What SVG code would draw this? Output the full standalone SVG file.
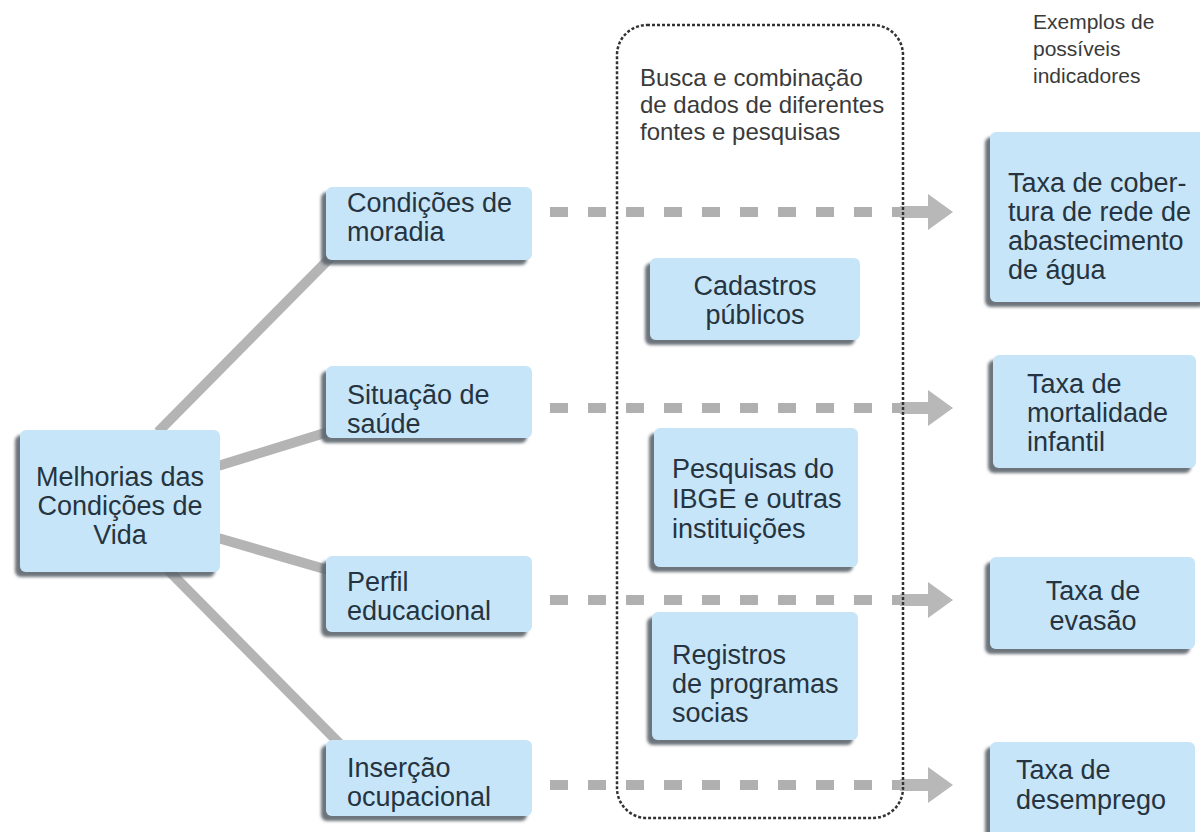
<svg xmlns="http://www.w3.org/2000/svg" width="1200" height="832" viewBox="0 0 1200 832">
<style>
.box{fill:#c7e5f8;filter:url(#sh)}
.t{font-family:"Liberation Sans",Arial,sans-serif;font-size:27px;fill:#253440}
.h{font-family:"Liberation Sans",Arial,sans-serif;font-size:24px;fill:#3a3a3a}
.e{font-family:"Liberation Sans",Arial,sans-serif;font-size:21px;fill:#3a3a3a}
.c{text-anchor:middle}
.ln{stroke:#b4b4b4;stroke-width:10;fill:none}
.dash{stroke:#b0b0b0;stroke-width:10;stroke-dasharray:18 20;fill:none}
.arr{fill:#b8b8b8}
</style>
<defs>
<filter id="sh" x="-10%" y="-10%" width="120%" height="125%">
<feDropShadow dx="-5" dy="5" stdDeviation="1.5" flood-color="#5d656d" flood-opacity="0.9"/>
</filter>
</defs>
<rect width="1200" height="832" fill="#ffffff"/>

<g id="connectors">
<line class="ln" x1="158" y1="432" x2="332" y2="256"/>
<line class="ln" x1="218" y1="466" x2="328" y2="432"/>
<line class="ln" x1="218" y1="538" x2="328" y2="570"/>
<line class="ln" x1="168" y1="570" x2="342" y2="746"/>
<line class="dash" x1="550" y1="212" x2="905" y2="212"/>
<line class="dash" x1="550" y1="408" x2="905" y2="408"/>
<line class="dash" x1="550" y1="600" x2="905" y2="600"/>
<line class="dash" x1="550" y1="785" x2="905" y2="785"/>
<polygon class="arr" points="900,206 928,206 928,194 953,212 928,230 928,218 900,218"/>
<polygon class="arr" points="900,402 928,402 928,390 953,408 928,426 928,414 900,414"/>
<polygon class="arr" points="900,594 928,594 928,582 953,600 928,618 928,606 900,606"/>
<polygon class="arr" points="900,779 928,779 928,767 953,785 928,803 928,791 900,791"/>
</g>

<g id="sources-frame">
<rect x="617" y="25" width="286" height="793" rx="30" ry="30" fill="none" stroke="#333" stroke-width="2.5" stroke-dasharray="3 2"/>
<text class="h"><tspan x="640" y="86">Busca e combinação</tspan><tspan x="640" y="113">de dados de diferentes</tspan><tspan x="640" y="140">fontes e pesquisas</tspan></text>
</g>

<g id="examples-title">
<text class="e"><tspan x="1033" y="29">Exemplos de</tspan><tspan x="1033" y="56">possíveis</tspan><tspan x="1033" y="83">indicadores</tspan></text>
</g>

<g id="main">
<rect class="box" x="20" y="430" width="200" height="142" rx="6"/>
<text class="t c"><tspan x="120" y="486">Melhorias das</tspan><tspan x="120" y="515">Condições de</tspan><tspan x="120" y="544">Vida</tspan></text>
</g>

<g id="moradia">
<rect class="box" x="326" y="187" width="206" height="73" rx="6"/>
<text class="t"><tspan x="347" y="212">Condições de</tspan><tspan x="347" y="241">moradia</tspan></text>
</g>
<g id="saude">
<rect class="box" x="326" y="366" width="206" height="72" rx="6"/>
<text class="t"><tspan x="347" y="404">Situação de</tspan><tspan x="347" y="433">saúde</tspan></text>
</g>
<g id="educacional">
<rect class="box" x="326" y="556" width="206" height="76" rx="6"/>
<text class="t"><tspan x="347" y="591">Perfil</tspan><tspan x="347" y="620">educacional</tspan></text>
</g>
<g id="ocupacional">
<rect class="box" x="326" y="740" width="206" height="76" rx="6"/>
<text class="t"><tspan x="347" y="777">Inserção</tspan><tspan x="347" y="806">ocupacional</tspan></text>
</g>

<g id="cadastros">
<rect class="box" x="650" y="258" width="210" height="82" rx="6"/>
<text class="t c"><tspan x="755" y="295">Cadastros</tspan><tspan x="755" y="324">públicos</tspan></text>
</g>
<g id="pesquisas">
<rect class="box" x="654" y="428" width="204" height="139" rx="6"/>
<text class="t"><tspan x="672" y="478">Pesquisas do</tspan><tspan x="672" y="508">IBGE e outras</tspan><tspan x="672" y="538">instituições</tspan></text>
</g>
<g id="registros">
<rect class="box" x="652" y="612" width="206" height="128" rx="6"/>
<text class="t"><tspan x="672" y="664">Registros</tspan><tspan x="672" y="693">de programas</tspan><tspan x="672" y="722">socias</tspan></text>
</g>

<g id="cobertura">
<rect class="box" x="990" y="132" width="220" height="170" rx="6"/>
<text class="t"><tspan x="1008" y="192">Taxa de cober-</tspan><tspan x="1008" y="221">tura de rede de</tspan><tspan x="1008" y="250">abastecimento</tspan><tspan x="1008" y="279">de água</tspan></text>
</g>
<g id="mortalidade">
<rect class="box" x="993" y="355" width="203" height="113" rx="6"/>
<text class="t"><tspan x="1027" y="393">Taxa de</tspan><tspan x="1027" y="422">mortalidade</tspan><tspan x="1027" y="451">infantil</tspan></text>
</g>
<g id="evasao">
<rect class="box" x="990" y="557" width="205" height="92" rx="6"/>
<text class="t c"><tspan x="1093" y="600">Taxa de</tspan><tspan x="1093" y="630">evasão</tspan></text>
</g>
<g id="desemprego">
<rect class="box" x="990" y="742" width="205" height="100" rx="6"/>
<text class="t"><tspan x="1016" y="779">Taxa de</tspan><tspan x="1016" y="809">desemprego</tspan></text>
</g>
</svg>
